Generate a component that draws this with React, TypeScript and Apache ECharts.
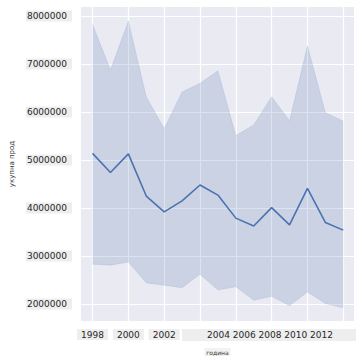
import React, { useEffect, useRef } from "react";
import * as echarts from "echarts";

const years = [1998, 1999, 2000, 2001, 2002, 2003, 2004, 2005, 2006, 2007, 2008, 2009, 2010, 2011, 2012];
const meanValues = [5140000, 4740000, 5130000, 4250000, 3920000, 4150000, 4480000, 4270000, 3790000, 3625000, 4010000, 3650000, 4410000, 3700000, 3540000];
const upperValues = [7830000, 6875000, 7900000, 6320000, 5660000, 6420000, 6600000, 6860000, 5510000, 5730000, 6320000, 5820000, 7380000, 5990000, 5810000];
const lowerValues = [2830000, 2810000, 2875000, 2440000, 2390000, 2340000, 2620000, 2290000, 2360000, 2080000, 2160000, 1965000, 2250000, 2010000, 1920000];
const yTicks = [2000000, 3000000, 4000000, 5000000, 6000000, 7000000, 8000000];
const xTicks = [1998, 2000, 2002, 2004, 2006, 2008, 2010, 2012];
const xTickLabels = ["1998", "2000", "2002", "2004", "2006", "2008", "2010", "2012"];
const xName = "година";
const yName = "укупна прод";

const LINE = "#4c72b0";
const FONT = "DejaVu Sans";

export default function App() {
  const ref = useRef<HTMLDivElement>(null);
  useEffect(() => {
    if (!ref.current) return;
    const chart = echarts.init(ref.current, null, { renderer: "svg" });
    const bandData = years.map((y, i) => [y, lowerValues[i], upperValues[i]]);
    const meanData = years.map((y, i) => [y, meanValues[i]]);
    chart.setOption({
      animation: false,
      grid: {
        left: 75,
        right: 8,
        top: 7,
        bottom: 41,
        show: true,
        backgroundColor: "#eaeaf2",
        borderWidth: 0,
      },
      xAxis: {
        type: "value",
        min: 1997.35,
        max: 2012.6,
        name: xName,
        nameLocation: "middle",
        nameGap: 27,
        nameTextStyle: {
          fontSize: 6,
          color: "#333333",
          fontFamily: FONT,
          backgroundColor: "#f2f2f2",
          padding: [1, 2],
        },
        axisLine: { show: false },
        axisTick: { show: false, customValues: xTicks },
        splitLine: { show: true, lineStyle: { color: "#ffffff", width: 1.2 } },
        axisLabel: {
          customValues: xTicks.slice(0, 3),
          formatter: (v: number) => xTickLabels[xTicks.indexOf(v)] ?? String(v),
          fontSize: 9,
          fontFamily: FONT,
          color: "#262626",
          backgroundColor: "#eeeeee",
          padding: [1, 4],
          margin: 8,
        },
      },
      yAxis: {
        type: "value",
        min: 1646000,
        max: 8190000,
        name: yName,
        nameLocation: "middle",
        nameGap: 62,
        nameTextStyle: { fontSize: 7, color: "#333333", fontFamily: FONT },
        axisLine: { show: false },
        axisTick: { show: false, customValues: yTicks },
        splitLine: { show: true, lineStyle: { color: "#ffffff", width: 1.2 } },
        axisLabel: {
          customValues: yTicks,
          formatter: (v: number) => String(v),
          align: "left",
          margin: 55,
          fontSize: 9,
          fontFamily: FONT,
          color: "#262626",
          backgroundColor: "#eeeeee",
          padding: [1, 5, 1, 1],
        },
      },
      graphic: [
        {
          type: "rect",
          shape: { x: 182, y: 329, width: 174, height: 12 },
          style: { fill: "#eeeeee" },
        },
        {
          type: "text",
          x: 270,
          y: 335,
          style: {
            text: xTickLabels.slice(3).join(" "),
            fontSize: 9,
            fontFamily: FONT,
            fill: "#262626",
            align: "center",
            verticalAlign: "middle",
          },
        },
      ],
      series: [
        {
          type: "custom",
          data: bandData,
          silent: true,
          renderItem: (params: any, api: any) => {
            if (params.dataIndex !== 0) return null;
            const upper = bandData.map((d) => api.coord([d[0], d[2]]));
            const lower = bandData.map((d) => api.coord([d[0], d[1]]));
            const points = upper.concat(lower.slice().reverse());
            return {
              type: "group",
              children: [
                {
                  type: "polygon",
                  shape: { points },
                  style: { fill: LINE, opacity: 0.2 },
                },
                {
                  type: "polyline",
                  shape: { points: upper },
                  style: { stroke: LINE, fill: "none", opacity: 0.12, lineWidth: 1 },
                },
                {
                  type: "polyline",
                  shape: { points: lower },
                  style: { stroke: LINE, fill: "none", opacity: 0.12, lineWidth: 1 },
                },
              ],
            };
          },
        },
        {
          type: "line",
          data: meanData,
          symbol: "none",
          lineStyle: { color: LINE, width: 1.6 },
        },
      ],
    });
    return () => chart.dispose();
  }, []);
  return (
    <div
      ref={ref}
      style={{ position: "fixed", left: 0, top: 0, width: 362, height: 362, background: "#ffffff" }}
    />
  );
}
